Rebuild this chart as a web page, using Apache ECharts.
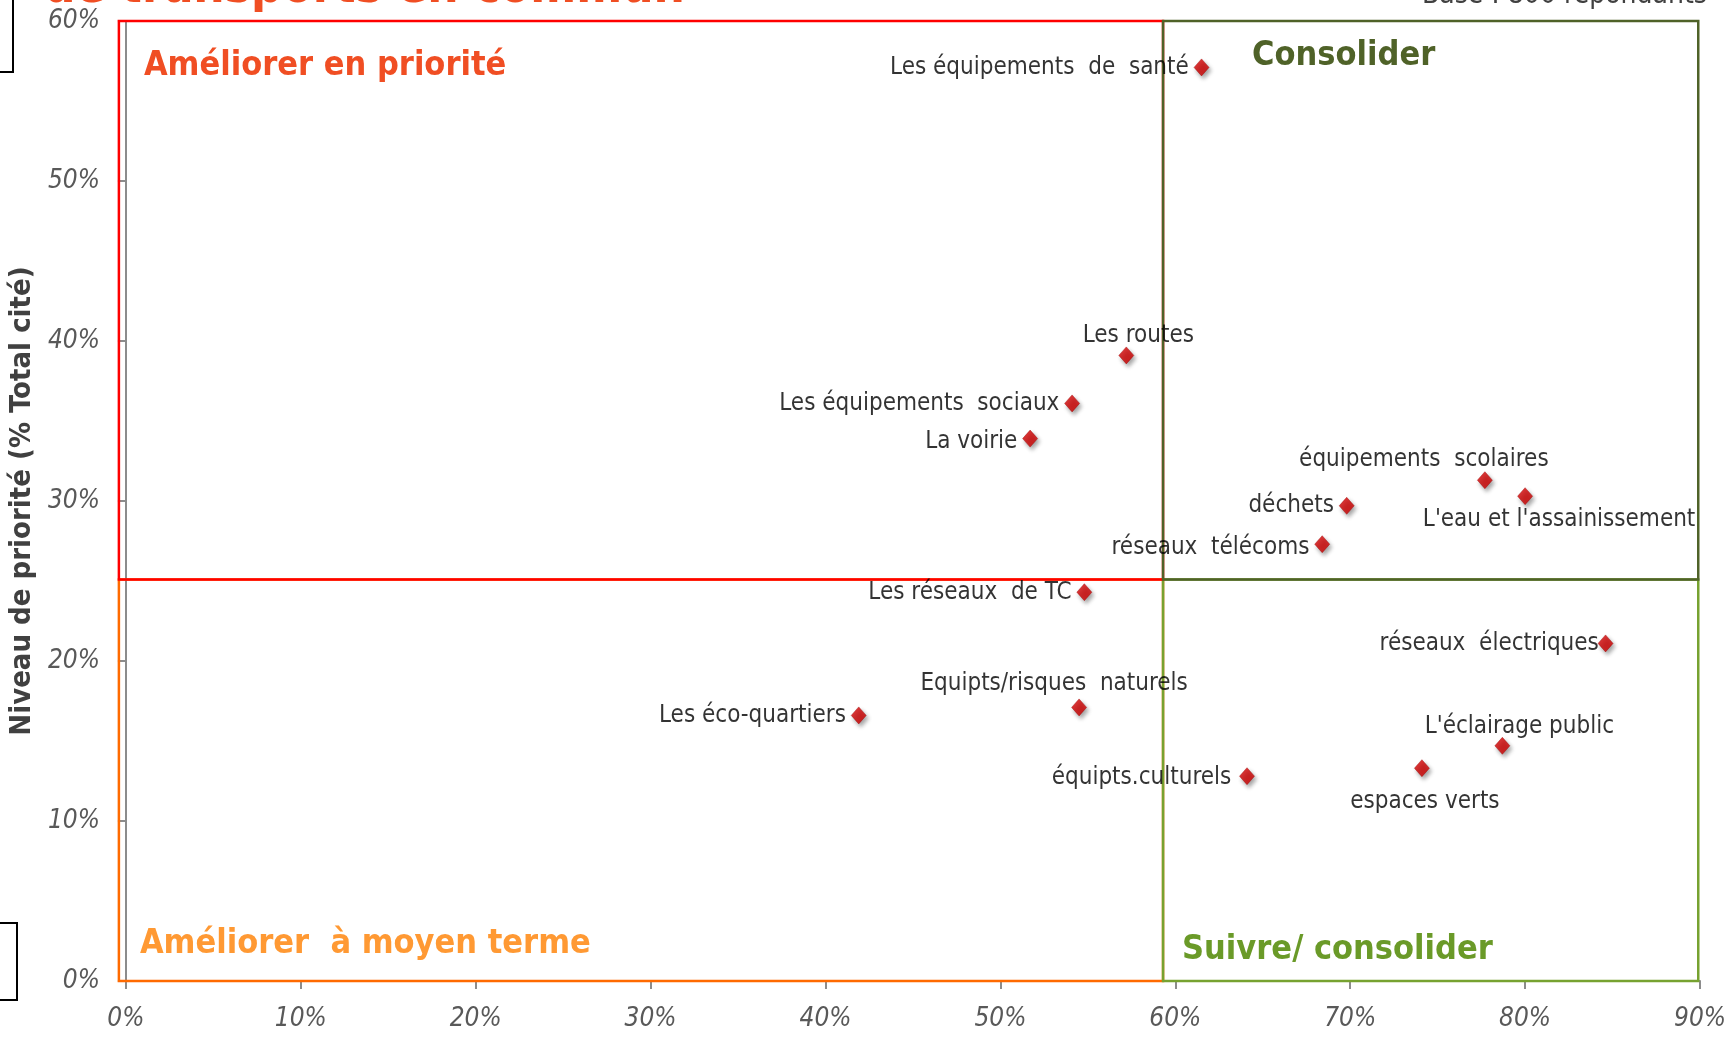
<!DOCTYPE html>
<html>
<head>
<meta charset="utf-8">
<script src="https://cdn.jsdelivr.net/npm/echarts@6/dist/echarts.min.js"></script>
<style>
  html, body { margin: 0; padding: 0; background: #fff; }
  #chart { width: 1729px; height: 1038px; }
</style>
</head>
<body>
<div id="chart"></div>
<script>
// données (en %)
const names = [
  'Les équipements  de  santé', 'Les routes', 'Les équipements  sociaux', 'La voirie',
  'équipements  scolaires', "L'eau et l'assainissement", 'déchets', 'réseaux  télécoms',
  'Les réseaux  de TC', 'réseaux  électriques', 'Equipts/risques  naturels', 'Les éco-quartiers',
  "L'éclairage public", 'espaces verts', 'équipts.culturels'
];
const xValues = [61.5, 57.2, 54.1, 51.7, 77.7, 80.0, 69.8, 68.4, 54.8, 84.6, 54.5, 41.9, 78.7, 74.1, 64.1];
const yValues = [57.1, 39.1, 36.1, 33.9, 31.3, 30.3, 29.7, 27.3, 24.3, 21.1, 17.1, 16.6, 14.7, 13.3, 12.8];

const xTicks = [0, 90, 10];   // min, max, pas
const yTicks = [0, 60, 10];

// limites des quadrants
const splitX = 59.3;
const splitY = 25.1;
const boxLeft = -0.4;
const boxRight = 89.9;

const FONT = '"Liberation Sans Narrow", "DejaVu Sans Condensed", sans-serif';

// placement des étiquettes (left = à gauche du point, sinon centre + décalage)
const labelPlacement = [
  { pos: 'left', off: [0, 0] },
  { pos: 'inside', off: [12, -20] },
  { pos: 'left', off: [0, 0] },
  { pos: 'left', off: [0, 3] },
  { pos: 'inside', off: [-61, -20] },
  { pos: 'inside', off: [34, 24] },
  { pos: 'left', off: [0, 0] },
  { pos: 'left', off: [0, 4] },
  { pos: 'left', off: [0, 1] },
  { pos: 'left', off: [6, 0] },
  { pos: 'inside', off: [-25, -24] },
  { pos: 'left', off: [0, 0] },
  { pos: 'inside', off: [17, -19] },
  { pos: 'inside', off: [3, 34] },
  { pos: 'left', off: [-3, 2] }
];

const pointData = names.map((n, i) => ({
  name: n,
  value: [xValues[i], yValues[i]],
  label: {
    position: labelPlacement[i].pos,
    offset: labelPlacement[i].off,
    distance: 5
  }
}));

// ordre de dessin : orange, vert clair, rouge, vert foncé
const quadrants = [
  { name: 'Améliorer  à moyen terme', box: [boxLeft, 0, splitX, splitY], line: '#ff6a00', text: '#ff9933', bottom: true, off: [21, -20] },
  { name: 'Suivre/ consolider', box: [splitX, 0, boxRight, splitY], line: '#77a230', text: '#6a9a28', bottom: true, off: [19, -14] },
  { name: 'Améliorer en priorité', box: [boxLeft, splitY, splitX, 60], line: '#ff0000', text: '#f04e23', bottom: false, off: [25, 28] },
  { name: 'Consolider', box: [splitX, splitY, boxRight, 60], line: '#4f6228', text: '#4f6228', bottom: false, off: [89, 18] }
];

const chart = echarts.init(document.getElementById('chart'));

const option = {
  animation: false,
  backgroundColor: '#ffffff',
  textStyle: { fontFamily: FONT },
  grid: { left: 125, right: 28, top: 21, bottom: 57, containLabel: false },
  xAxis: {
    type: 'value',
    min: xTicks[0], max: xTicks[1], interval: xTicks[2],
    splitLine: { show: false },
    axisLine: { show: true, lineStyle: { color: '#8c8c8c', width: 2 } },
    axisTick: { show: true, length: 8, lineStyle: { color: '#8c8c8c', width: 2 } },
    axisLabel: {
      formatter: '{value}%', color: '#595959', fontStyle: 'italic',
      fontSize: 26, fontFamily: FONT, margin: 25
    }
  },
  yAxis: {
    type: 'value',
    min: yTicks[0], max: yTicks[1], interval: yTicks[2],
    splitLine: { show: false },
    axisLine: { show: true, lineStyle: { color: '#8c8c8c', width: 2 } },
    axisTick: { show: true, length: 8, lineStyle: { color: '#8c8c8c', width: 2 } },
    axisLabel: {
      formatter: '{value}%', color: '#595959', fontStyle: 'italic',
      fontSize: 26, fontFamily: FONT, margin: 26
    },
    name: 'Niveau de priorité (% Total cité)',
    nameLocation: 'middle',
    nameGap: 74,
    nameTextStyle: { color: '#404040', fontWeight: 'bold', fontSize: 29, fontFamily: FONT }
  },
  graphic: [
    {
      type: 'text', x: 44, y: -35, silent: true,
      style: { text: 'de transports en commun', fill: '#f04e23', font: 'bold 49px ' + FONT }
    },
    {
      type: 'text', x: 1422, y: -18, silent: true,
      style: { text: 'Base : 800 répondants', fill: '#404040', font: '28px ' + FONT }
    },
    {
      type: 'rect', silent: true,
      shape: { x: -10, y: -10, width: 23, height: 82 },
      style: { fill: 'none', stroke: '#000', lineWidth: 2 }
    },
    {
      type: 'rect', silent: true,
      shape: { x: -10, y: 923, width: 27, height: 77 },
      style: { fill: 'none', stroke: '#000', lineWidth: 2 }
    }
  ],
  series: [
    {
      // cadres des quadrants
      type: 'custom',
      clip: false,
      silent: true,
      z: 1,
      encode: { x: [0, 2], y: [1, 3] },
      data: quadrants.map(q => q.box),
      renderItem: function (params, api) {
        const q = quadrants[params.dataIndex];
        const p0 = api.coord([api.value(0), api.value(3)]);
        const p1 = api.coord([api.value(2), api.value(1)]);
        return {
          type: 'group',
          children: [
            {
              type: 'rect',
              shape: { x: p0[0], y: p0[1], width: p1[0] - p0[0], height: p1[1] - p0[1] },
              style: { fill: 'none', stroke: q.line, lineWidth: 2.5 }
            },
            {
              type: 'text',
              style: {
                text: q.name,
                x: p0[0] + q.off[0],
                y: (q.bottom ? p1[1] : p0[1]) + q.off[1],
                verticalAlign: q.bottom ? 'bottom' : 'top',
                fill: q.text,
                font: 'bold 34px ' + FONT
              }
            }
          ]
        };
      }
    },
    {
      type: 'scatter',
      clip: false,
      symbol: 'diamond',
      symbolSize: [15, 17],
      itemStyle: {
        color: '#d00000',
        borderColor: '#a00000',
        borderWidth: 0.5,
        shadowBlur: 4,
        shadowColor: 'rgba(0,0,0,0.45)',
        shadowOffsetX: 2,
        shadowOffsetY: 3
      },
      label: {
        show: true,
        formatter: '{b}',
        color: '#000',
        fontSize: 24,
        fontFamily: FONT
      },
      z: 5,
      data: pointData
    }
  ]
};

chart.setOption(option);
window.addEventListener('resize', () => chart.resize());
</script>
</body>
</html>
